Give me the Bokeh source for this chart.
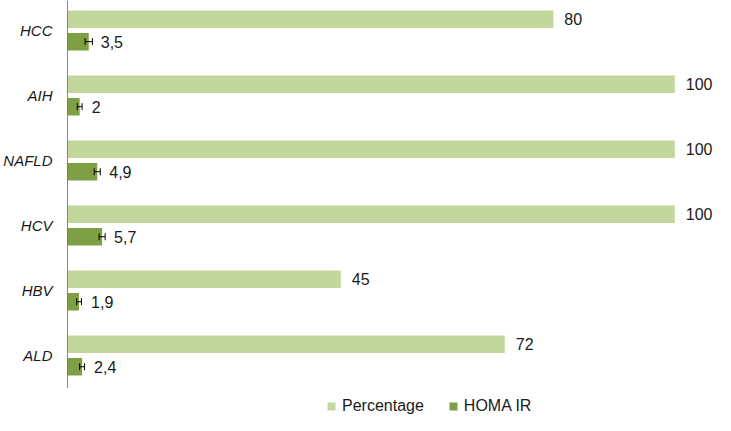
from bokeh.plotting import figure
from bokeh.models import ColumnDataSource, Range1d, Legend, LegendItem, FixedTicker
from bokeh.core.properties import value
from bokeh.embed import file_html
from bokeh.resources import INLINE
import math

categories = ["HCC", "AIH", "NAFLD", "HCV", "HBV", "ALD"]
percentage = [80, 100, 100, 100, 45, 72]
homa_ir = [3.5, 2, 4.9, 5.7, 1.9, 2.4]
homa_err = [0.6, 0.4, 0.5, 0.5, 0.4, 0.4]
pct_labels = ["80", "100", "100", "100", "45", "72"]
homa_labels = ["3,5", "2", "4,9", "5,7", "1,9", "2,4"]

FONT = "Liberation Sans"
C_PCT = "#C3D69B"
C_HOMA = "#7F9F45"
W, H = 715, 415
n = len(categories)

pos = [float(n - 1 - i) for i in range(n)]
src = ColumnDataSource(dict(
    pos=pos,
    y_pct=[v + 0.173 for v in pos],
    y_homa=[v - 0.173 for v in pos],
    pct=percentage,
    homa=homa_ir,
    lo=[h - e for h, e in zip(homa_ir, homa_err)],
    hi=[h + e for h, e in zip(homa_ir, homa_err)],
    pct_lab=pct_labels,
    homa_lab=homa_labels,
))

Y_TOP = n - 1 + 0.46
Y_BOT = -0.923

p = figure(width=W, height=H, output_backend="svg", toolbar_location=None,
           y_range=Range1d(Y_BOT, Y_TOP), x_range=Range1d(0, 106.7),
           min_border_left=63, min_border_right=0, min_border_top=0, min_border_bottom=0)

r_pct = p.hbar(y="y_pct", right="pct", left=0, height=0.27, source=src,
               fill_color=C_PCT, line_color=None)
r_homa = p.hbar(y="y_homa", right="homa", left=0, height=0.27, source=src,
                fill_color=C_HOMA, line_color=None)

p.segment(x0="lo", y0="y_homa", x1="hi", y1="y_homa", source=src, line_color="black", line_width=1)
p.scatter(x="lo", y="y_homa", source=src, marker="dash", angle=math.pi / 2, size=7,
          line_color="black", line_width=1)
p.scatter(x="hi", y="y_homa", source=src, marker="dash", angle=math.pi / 2, size=7,
          line_color="black", line_width=1)

p.text(x="pct", y="y_pct", text="pct_lab", source=src, x_offset=11,
       text_baseline="middle", text_align="left", text_font=value(FONT),
       text_font_size="16px", text_color="#1a1a1a")
p.text(x="homa", y="y_homa", text="homa_lab", source=src, x_offset=12,
       text_baseline="middle", text_align="left", text_font=value(FONT),
       text_font_size="16px", text_color="#1a1a1a")

# vertical axis line spanning only the category area
p.segment(x0=[0], y0=[-0.5], x1=[0], y1=[Y_TOP], line_color="#111111", line_width=1)

p.xaxis.visible = False
p.xgrid.visible = False
p.ygrid.visible = False
p.outline_line_color = None

ax = p.yaxis[0]
ax.ticker = FixedTicker(ticks=pos)
ax.major_label_overrides = {v: c for v, c in zip(pos, categories)}
ax.axis_line_color = None
ax.major_tick_line_color = None
ax.minor_tick_line_color = None
ax.major_label_text_font = FONT
ax.major_label_text_font_style = "italic"
ax.major_label_text_font_size = "15px"
ax.major_label_text_color = "#1a1a1a"
ax.major_label_standoff = 9

legend = Legend(items=[LegendItem(label="Percentage", renderers=[r_pct]),
                       LegendItem(label="HOMA IR", renderers=[r_homa])],
                orientation="horizontal", location=(259, 0),
                glyph_width=10, glyph_height=10, label_standoff=6, spacing=24,
                label_text_font=FONT, label_text_font_size="16px",
                label_text_color="#1a1a1a", border_line_color=None,
                background_fill_alpha=0, padding=0, margin=0)
p.add_layout(legend)

open("out.html", "w").write(file_html(p, INLINE))
